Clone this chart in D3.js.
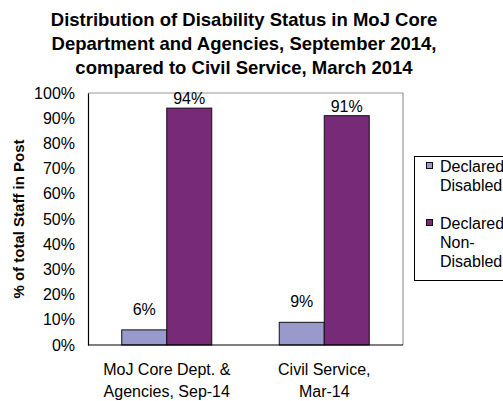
<!DOCTYPE html>
<html>
<head>
<meta charset="utf-8">
<script src="https://cdn.jsdelivr.net/npm/d3@7"></script>
<style>
  body { margin: 0; background: #fff; }
  svg { display: block; font-family: "Liberation Sans", Arial, sans-serif; }
</style>
</head>
<body>
<svg id="chart" width="503" height="401"></svg>
<script>
const titleLines = [
  "Distribution of Disability Status in MoJ Core",
  "Department and Agencies, September 2014,",
  "compared to Civil Service, March 2014"
];
const categories = ["MoJ Core Dept. & Agencies, Sep-14", "Civil Service, Mar-14"];
const categoryLines = [["MoJ Core Dept. &", "Agencies, Sep-14"], ["Civil Service,", "Mar-14"]];
const seriesNames = ["Declared Disabled", "Declared Non-Disabled"];
const legendLines = [["Declared", "Disabled"], ["Declared", "Non-", "Disabled"]];
const disabled = [6, 9];
const nonDisabled = [94, 91];
const yTicks = [0, 10, 20, 30, 40, 50, 60, 70, 80, 90, 100];
const yTitle = "% of total Staff in Post";

const colors = ["#9999cc", "#772a77"];
const labelGap = [15, 4];

const svg = d3.select("#chart");
const m = { left: 88, right: 403, top: 93, bottom: 345 };

const rows = categories.map((c, i) => ({ cat: c, lines: categoryLines[i], values: [disabled[i], nonDisabled[i]] }));

const x0 = d3.scaleBand().domain(categories).range([m.left, m.right])
  .paddingInner(0.4286).paddingOuter(0.2143);
const x1 = d3.scaleBand().domain(d3.range(seriesNames.length)).range([0, x0.bandwidth()]);
const y = d3.scaleLinear().domain([0, 100]).range([m.bottom, m.top]);

// title
svg.append("text")
  .attr("text-anchor", "middle")
  .attr("font-weight", "bold").attr("font-size", 18.5)
  .selectAll("tspan").data(titleLines).join("tspan")
  .attr("x", 244).attr("y", (d, i) => 26 + i * 24)
  .text(d => d);

// plot frame (grey top/right)
svg.append("path")
  .attr("d", `M${m.left},${m.top}H${m.right}V${m.bottom}`)
  .attr("fill", "none").attr("stroke", "#9a9a9a").attr("stroke-width", 1.2);

// bars
const g = svg.append("g").selectAll("g").data(rows).join("g")
  .attr("transform", d => `translate(${x0(d.cat)},0)`);

g.selectAll("rect").data(d => d.values).join("rect")
  .attr("x", (d, i) => x1(i)).attr("width", x1.bandwidth())
  .attr("y", d => y(d)).attr("height", d => y(0) - y(d))
  .attr("fill", (d, i) => colors[i])
  .attr("stroke", "#111").attr("stroke-width", 1);

g.selectAll("text.lbl").data(d => d.values).join("text")
  .attr("class", "lbl")
  .attr("x", (d, i) => x1(i) + x1.bandwidth() / 2)
  .attr("y", (d, i) => y(d) - labelGap[i])
  .attr("text-anchor", "middle").attr("font-size", 16)
  .text(d => d + "%");

// y axis
const yAxis = svg.append("g")
  .attr("transform", `translate(${m.left},0)`)
  .call(d3.axisLeft(y).tickValues(yTicks).tickSize(0).tickPadding(13).tickFormat(d => d + "%"));
yAxis.select(".domain").attr("stroke", "#000").attr("stroke-width", 1.2);
yAxis.selectAll("text").attr("font-size", 16).attr("font-family", null).attr("fill", "#000");

// x axis baseline
svg.append("line")
  .attr("x1", m.left).attr("x2", m.right).attr("y1", y(0)).attr("y2", y(0))
  .attr("stroke", "#000").attr("stroke-width", 1.2);

// category labels
svg.append("g").selectAll("text").data(rows).join("text")
  .attr("text-anchor", "middle").attr("font-size", 16)
  .selectAll("tspan").data(d => d.lines.map(l => ({ l, cx: x0(d.cat) + x0.bandwidth() / 2 }))).join("tspan")
  .attr("x", d => d.cx).attr("y", (d, i) => 375 + i * 22)
  .text(d => d.l);

// y title
svg.append("text")
  .attr("transform", `translate(24,${(m.top + m.bottom) / 2}) rotate(-90)`)
  .attr("text-anchor", "middle").attr("font-weight", "bold").attr("font-size", 15)
  .text(yTitle);

// legend
const lg = svg.append("g");
lg.append("rect").attr("x", 414.5).attr("y", 156.5).attr("width", 100).attr("height", 124)
  .attr("fill", "#fff").attr("stroke", "#000");
let ly = 172;
legendLines.forEach((lines, i) => {
  lg.append("rect").attr("x", 426.5).attr("y", ly - 9.5).attr("width", 6).attr("height", 6)
    .attr("fill", colors[i]).attr("stroke", "#111");
  lg.append("text").attr("font-size", 16)
    .selectAll("tspan").data(lines).join("tspan")
    .attr("x", 440).attr("y", (d, k) => ly + k * 19)
    .text(d => d);
  ly += (lines.length + 1) * 19;
});
</script>
</body>
</html>
